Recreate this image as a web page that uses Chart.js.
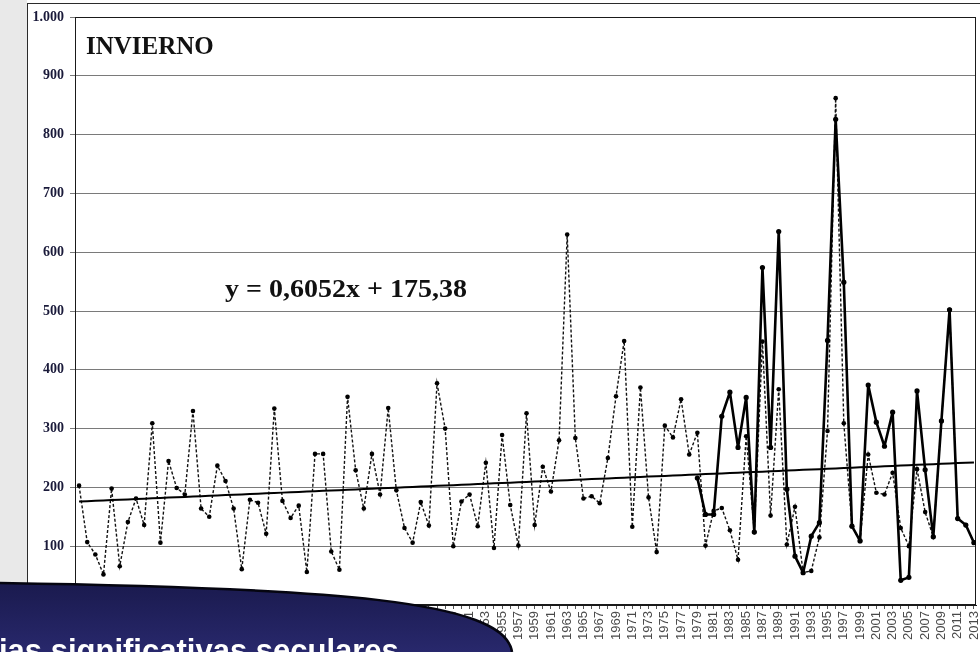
<!DOCTYPE html>
<html lang="es">
<head>
<meta charset="utf-8">
<title>Invierno</title>
<script src="https://cdn.jsdelivr.net/npm/chart.js@4.4.1/dist/chart.umd.min.js"></script>
<style>
  html, body { margin: 0; padding: 0; }
  body { width: 980px; height: 652px; overflow: hidden; position: relative; background: #fff; }
  #strip { position: absolute; left: 0; top: 0; width: 27px; height: 652px; background: #e9e9e9; }
  #panel { position: absolute; left: 27px; top: 3px; width: 953px; height: 649px; background: #fff;
           border-left: 1px solid #2b2b2b; border-top: 1px solid #2b2b2b; }
  #chart { position: absolute; left: 0; top: 0; }
  .note { position: absolute; font-family: "Liberation Serif", "Times New Roman", serif; font-weight: bold;
          color: #111; white-space: nowrap; line-height: 25px; font-size: 25px; }
  #season { left: 86px; top: 33px; }
  #equation { left: 225px; top: 276px; transform: scaleX(1.12); transform-origin: 0 0; }
  #banner { position: absolute; left: 0; top: 0; }
  #banner-text { position: absolute; left: -1px; top: 633px; font: bold 31px "Liberation Sans", Arial, sans-serif;
                 line-height: 36px; color: #fff; white-space: nowrap; }
</style>
</head>
<body>
<div id="strip"></div>
<div id="panel"></div>
<canvas id="chart" width="980" height="652"></canvas>
<div id="season" class="note">INVIERNO</div>
<div id="equation" class="note">y = 0,6052x + 175,38</div>
<svg id="banner" width="980" height="652">
  <defs>
    <linearGradient id="bannerFill" x1="0" y1="0" x2="0" y2="1">
      <stop offset="0" stop-color="#1a1a4e"/>
      <stop offset="1" stop-color="#28286c"/>
    </linearGradient>
  </defs>
  <path d="M0,583 C330,588 505,600 512,652 L0,652 Z" fill="url(#bannerFill)"/>
  <path d="M0,583 C330,588 505,600 512,652" fill="none" stroke="#050510" stroke-width="2.5"/>
</svg>
<div id="banner-text">ias significativas seculares</div>

<script>
// serie de invierno, 1903-2013
const firstYear = 1903;
const winterTotals = [
  203, 107, 86, 52, 198, 66, 141, 181, 136, 309,
  106, 245, 199, 188, 330, 164, 150, 237, 211, 164,
  61, 179, 174, 121, 334, 177, 148, 169, 56, 257,
  257, 91, 60, 354, 229, 164, 257, 188, 335, 195,
  131, 106, 175, 135, 377, 300, 100, 176, 188, 134,
  242, 97, 289, 170, 101, 326, 136, 235, 193, 280,
  630, 284, 181, 185, 173, 250, 355, 449, 133, 370,
  183, 90, 305, 285, 350, 256, 293, 101, 160, 165,
  127, 77, 287, 124, 448, 152, 367, 103, 167, 55,
  58, 115, 296, 862, 309, 134, 109, 256, 191, 188,
  225, 131, 100, 231, 158, 116, 313, 502, 147, 136,
  106
];

// serie reciente (trazo grueso), 1979-2013
const recentFirstYear = 1979;
const recentTotals = [
  216, 154, 154, 321, 362, 268, 353, 124, 574, 268,
  635, 197, 83, 55, 117, 140, 450, 826, 549, 134,
  109, 374, 311, 270, 328, 42, 47, 364, 230, 116,
  313, 502, 147, 136, 106
];

// recta de tendencia y = 0,6052x + 175,38 (x = 1, 2, ...)
const trendSlope = 0.6052;
const trendIntercept = 175.38;

const yMax = 1000;
const yStep = 100;

const years = winterTotals.map((v, i) => firstYear + i);
const winterPoints = winterTotals.map((v, i) => ({ x: years[i], y: v }));
const recentPoints = recentTotals.map((v, i) => ({ x: recentFirstYear + i, y: v }));
const trendPoints = years.map((yr, i) => ({ x: yr, y: trendSlope * (i + 1) + trendIntercept }));

function thousands(v) {
  return String(v).replace(/\B(?=(\d{3})+(?!\d))/g, '.');
}

// marco completo del área de trazado
const plotFrame = {
  id: 'plotFrame',
  beforeDatasetsDraw(chart) {
    const { ctx, chartArea: a } = chart;
    ctx.save();
    ctx.strokeStyle = '#1a1a1a';
    ctx.lineWidth = 1;
    ctx.strokeRect(a.left + 0.5, a.top + 0.5, a.right - a.left - 1, a.bottom - a.top - 1);
    ctx.restore();
  }
};

new Chart(document.getElementById('chart'), {
  type: 'line',
  data: {
    datasets: [
      {
        label: 'Tendencia',
        data: trendPoints,
        borderColor: '#000',
        borderWidth: 2,
        pointRadius: 0,
        order: 0
      },
      {
        label: '1979-2013',
        data: recentPoints,
        borderColor: '#000',
        backgroundColor: '#000',
        borderWidth: 2.6,
        borderJoinStyle: 'round',
        pointRadius: 2.6,
        pointBorderWidth: 0,
        order: 1
      },
      {
        label: 'Invierno',
        data: winterPoints,
        borderColor: '#111',
        backgroundColor: '#000',
        borderWidth: 1.4,
        borderDash: [3, 2],
        pointRadius: 2.3,
        pointBorderWidth: 0,
        order: 2
      }
    ]
  },
  options: {
    responsive: false,
    animation: false,
    devicePixelRatio: 1,
    layout: { padding: { left: 0, top: 17, right: 3, bottom: 0 } },
    plugins: { legend: { display: false }, tooltip: { enabled: false } },
    scales: {
      x: {
        type: 'linear',
        min: firstYear - 0.5,
        max: 2013.25,
        afterBuildTicks: (scale) => { scale.ticks = years.map(v => ({ value: v })); },
        afterFit: (scale) => { scale.height = 47; scale.paddingLeft = 0; scale.paddingRight = 0; },
        grid: { drawOnChartArea: false, drawTicks: true, tickLength: 4, color: '#555' },
        border: { display: true, color: '#1a1a1a' },
        ticks: {
          autoSkip: false,
          maxRotation: 90,
          minRotation: 90,
          padding: 2,
          color: '#4a4a4a',
          font: { family: '"Liberation Sans", Arial, sans-serif', size: 13 },
          callback: (v) => (v % 2 === 1 ? String(v) : '')
        }
      },
      y: {
        min: 0,
        max: yMax,
        afterFit: (scale) => { scale.width = 75; scale.paddingTop = 0; scale.paddingBottom = 0; },
        grid: { color: '#7a7a7a', tickLength: 5 },
        border: { display: true, color: '#1a1a1a' },
        ticks: {
          stepSize: yStep,
          padding: 6,
          color: '#1a1a3a',
          font: { family: '"Liberation Serif", "Times New Roman", serif', size: 14, weight: 'bold' },
          callback: (v) => (v === 0 ? '' : thousands(v))
        }
      }
    }
  },
  plugins: [plotFrame]
});
</script>
</body>
</html>
